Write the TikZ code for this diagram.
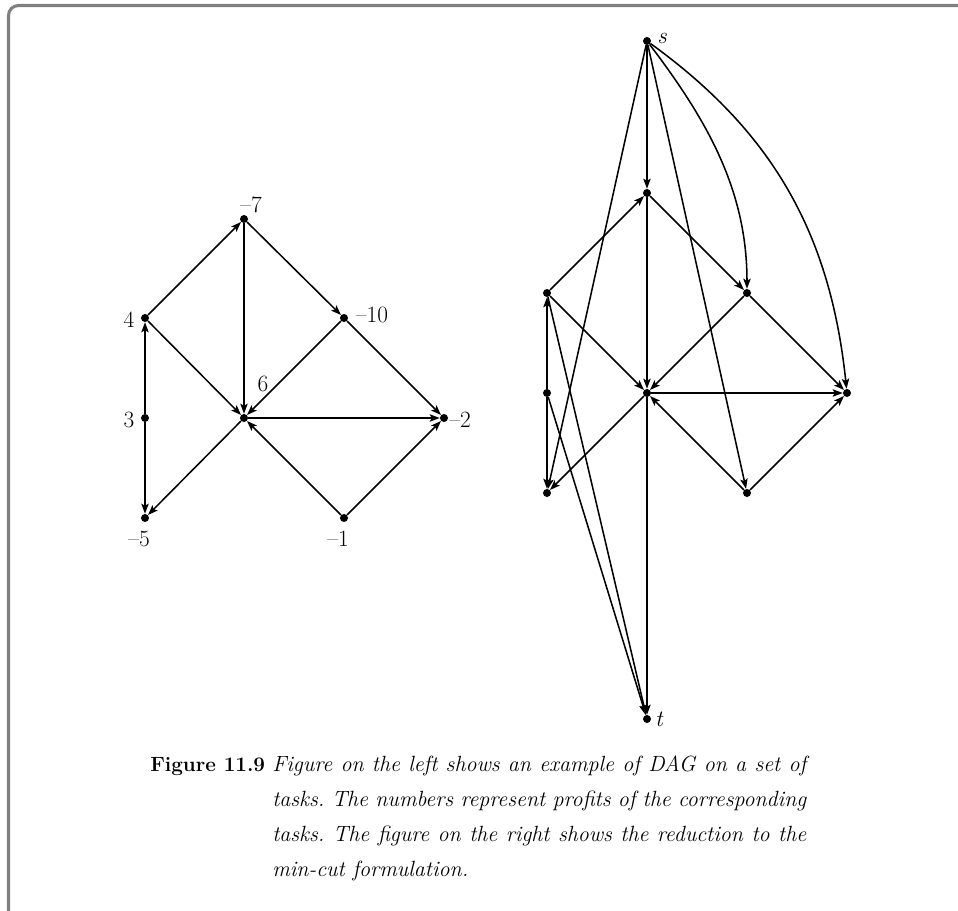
\documentclass[tikz,border=0pt]{standalone}
\usetikzlibrary{arrows.meta}
\begin{document}
\frenchspacing
\begin{tikzpicture}[x=0.75pt,y=-0.75pt,
  dot/.style={circle,fill=black,inner sep=0pt,minimum size=6pt},
  edge/.style={line width=1.15pt,-{Stealth[length=7.5pt,width=5.5pt,inset=1.5pt]}},
  lab/.style={font=\fontsize{17.5}{20}\selectfont,inner sep=0pt},
  slab/.style={font=\fontsize{17.5}{20}\selectfont\itshape,inner sep=0pt},
  captext/.style={anchor=base west,inner sep=0pt,font=\fontsize{16.5}{19}\selectfont\itshape},
  boxframe/.style={line width=2.3pt,draw=black!50,rounded corners=7.5pt}
]
\useasboundingbox (0,0) rectangle (958,911);
\draw[boxframe] (8.5,916) -- (8.5,5.5) -- (964,5.5);

% ---------- left graph ----------
\node[dot] (a7)  at (244,219) {};
\node[dot] (a4)  at (145,318) {};
\node[dot] (a10) at (344,318) {};
\node[dot] (a3)  at (145,418) {};
\node[dot] (a6)  at (244,418) {};
\node[dot] (a2)  at (444,418) {};
\node[dot] (a5)  at (145,518) {};
\node[dot] (a1)  at (344,518) {};

\node[lab] (la7)  at (251,205) {--7};
\node[lab] (la4)  at (129,320) {4};
\node[lab] (la10) at (372,315) {--10};
\node[lab] (la3)  at (129,420) {3};
\node[lab] (la6)  at (263,384) {6};
\node[lab] (la2)  at (460,420) {--2};
\node[lab] (la5)  at (139,539) {--5};
\node[lab] (la1)  at (338,539) {--1};

\draw[edge] (a4) -- (a7);
\draw[edge] (a7) -- (a10);
\draw[edge] (a7) -- (a6);
\draw[edge] (a4) -- (a6);
\draw[edge] (a10) -- (a6);
\draw[edge] (a10) -- (a2);
\draw[edge] (a6) -- (a2);
\draw[edge] (a6) -- (a5);
\draw[edge] (a1) -- (a6);
\draw[edge] (a1) -- (a2);
\draw[edge] (a3) -- (a4);
\draw[edge] (a3) -- (a5);

% ---------- right graph ----------
\node[dot] (s)   at (647,41) {};
\node[dot] (b7)  at (647,193) {};
\node[dot] (b4)  at (547,293) {};
\node[dot] (b10) at (747,293) {};
\node[dot] (b3)  at (547,393) {};
\node[dot] (b6)  at (647,393) {};
\node[dot] (b2)  at (847,393) {};
\node[dot] (b5)  at (547,493) {};
\node[dot] (b1)  at (747,493) {};
\node[dot] (t)   at (647,719) {};

\node[slab] (ls) at (662,38) {s};
\node[slab] (lt) at (659,719) {t};

\draw[edge] (b4) -- (b7);
\draw[edge] (b7) -- (b10);
\draw[edge] (b7) -- (b6);
\draw[edge] (b4) -- (b6);
\draw[edge] (b10) -- (b6);
\draw[edge] (b10) -- (b2);
\draw[edge] (b6) -- (b2);
\draw[edge] (b6) -- (b5);
\draw[edge] (b1) -- (b6);
\draw[edge] (b1) -- (b2);
\draw[edge] (b3) -- (b4);
\draw[edge] (b3) -- (b5);

\draw[edge] (s) -- (b7);
\draw[edge] (s) -- (b5);
\draw[edge] (s) -- (b1);
\draw[edge] (s) .. controls (707,120) and (747,190) .. (b10);
\draw[edge] (s) .. controls (770,130) and (830,230) .. (b2);
\draw[edge] (b4) -- (t);
\draw[edge] (b3) -- (t);
\draw[edge] (b6) -- (t);

% ---------- caption ----------
\node[anchor=base west,inner sep=0pt,font=\fontsize{15.5}{18}\selectfont\bfseries] (fig) at (150,771) {Figure 11.9};
\node[captext] (c1) at (272,771) {\makebox[400.5pt][s]{Figure on the left shows an example of DAG on a set of}};
\node[captext] (c2) at (272,806) {\makebox[400.5pt][s]{tasks. The numbers represent profits of the corresponding}};
\node[captext] (c3) at (272,841) {\makebox[400.5pt][s]{tasks. The figure on the right shows the reduction to the}};
\node[captext] (c4) at (272,876) {min-cut formulation.};
\end{tikzpicture}
\end{document}
